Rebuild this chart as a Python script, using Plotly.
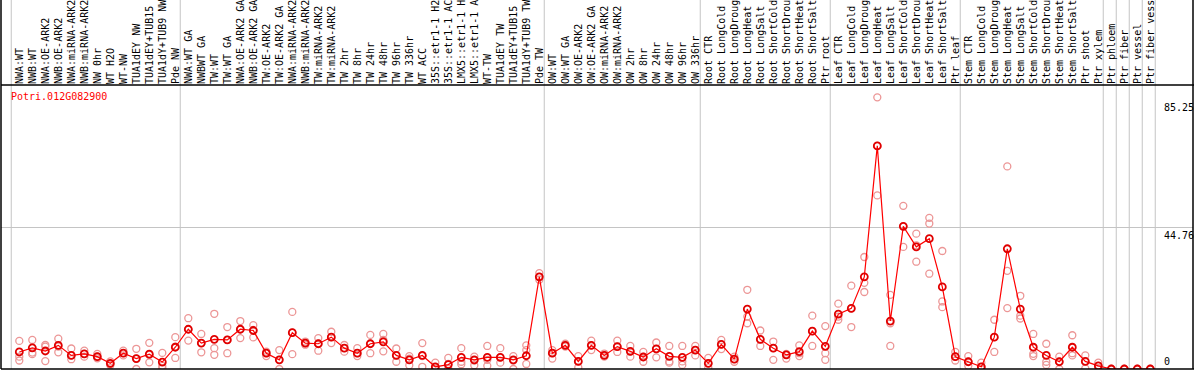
import plotly.graph_objects as go

gene = "Potri.012G082900"

labels = [
    "NWA:WT", "NWB:WT", "NWA:OE-ARK2", "NWB:OE-ARK2", "NWA:miRNA-ARK2", "NWB:miRNA-ARK2",
    "NW 0hr", "WT H2O", "WT-NW", "TUA1dEY NW", "TUA1dEY+TUB15 NW", "TUA1dY+TUB9 NW", "Pde NW",
    "NWA:WT GA", "NWBWT GA", "TW:WT", "TW:WT GA", "NWA:OE-ARK2 GA", "NWB:OE-ARK2 GA",
    "TW:OE-ARK2", "TW:OE-ARK2 GA", "NWA:miRNA-ARK2 GA", "NWB:miRNA-ARK2 GA", "TW:miRNA-ARK2",
    "TW:miRNA-ARK2 GA", "TW 2hr", "TW 8hr", "TW 24hr", "TW 48hr", "TW 96hr", "TW 336hr",
    "WT ACC", "35S::etr1-1 H2O", "35S::etr1-1 ACC", "LMX5::etr1-1 H2O", "LMX5::etr1-1 ACC",
    "WT-TW", "TUA1dEY TW", "TUA1dEY+TUB15 TW", "TUA1dY+TUB9 TW", "Pde TW",
    "OW:WT", "OW:WT GA", "OW:OE-ARK2", "OW:OE-ARK2 GA", "OW:miRNA-ARK2", "OW:miRNA-ARK2 GA",
    "OW 2hr", "OW 8hr", "OW 24hr", "OW 48hr", "OW 96hr", "OW 336hr",
    "Root CTR", "Root LongCold", "Root LongDrought", "Root LongHeat", "Root LongSalt",
    "Root ShortCold", "Root ShortDrought", "Root ShortHeat", "Root ShortSalt", "Ptr root",
    "Leaf CTR", "Leaf LongCold", "Leaf LongDrought", "Leaf LongHeat", "Leaf LongSalt",
    "Leaf ShortCold", "Leaf ShortDrought", "Leaf ShortHeat", "Leaf ShortSalt", "Ptr leaf",
    "Stem CTR", "Stem LongCold", "Stem LongDrought", "Stem LongHeat", "Stem LongSalt",
    "Stem ShortCold", "Stem ShortDrought", "Stem ShortHeat", "Stem ShortSalt", "Ptr shoot",
    "Ptr xylem", "Ptr phloem", "Ptr fiber", "Ptr vessel", "Ptr fiber vessel",
]

# first index of each group (group separators)
group_starts = [0, 13, 41, 53, 63, 73, 84, 85, 86, 87, 88]

mean_vals = [
    5.4, 6.7, 5.7, 7.5, 4.3, 4.8, 3.9, 1.8, 5.0, 3.3, 4.7, 2.2, 6.9,
    12.6, 8.2, 9.4, 9.2, 12.6, 12.2, 5.0, 2.9, 11.5, 8.2, 8.0, 10.1, 6.6, 5.0, 8.0, 8.6,
    4.3, 2.9, 4.3, 0.7, 1.4, 3.7, 2.9, 3.7, 3.7, 2.9, 4.2, 29.2,
    5.0, 7.5, 2.4, 7.5, 4.3, 7.1, 5.6, 3.8, 6.4, 4.0, 3.7, 6.0,
    1.8, 7.8, 3.1, 19.0, 9.4, 6.6, 4.5, 5.5, 12.0, 7.2,
    17.4, 19.2, 29.2, 70.7, 15.2, 45.2, 38.7, 41.3, 26.0, 3.9,
    2.3, 0.7, 10.1, 38.1, 19.0, 6.9, 4.3, 2.3, 6.9, 2.4, 1.0,
    0.0, 0.0, 0.0, 0.0,
]

rep1 = [
    8.9, 9.2, 7.6, 9.6, 6.5, 5.8, 4.8, 2.4, 5.8, 6.4, 8.3, 5.1, 10.1,
    16.1, 11.1, 17.5, 13.3, 15.2, 13.9, 5.5, 6.0, 18.1, 8.7, 9.8, 11.8, 7.6, 6.6, 10.8, 11.1,
    6.5, 4.1, 8.2, 2.0, 3.5, 6.6, 3.9, 7.3, 6.6, 4.1, 7.5, 30.4,
    6.0, 8.0, 4.1, 9.0, 4.9, 9.0, 7.3, 5.4, 8.4, 7.3, 7.3, 7.3,
    3.5, 9.2, 3.9, 25.1, 12.2, 8.7, 4.8, 7.5, 16.9, 13.6,
    20.7, 26.4, 35.5, 86.1, 23.5, 51.7, 42.9, 47.9, 37.4, 5.4,
    4.1, 2.0, 15.6, 64.2, 23.2, 11.1, 8.0, 3.9, 10.7, 4.3, 2.0,
    0.0, 0.0, 0.0, 0.0,
]

rep2 = [
    3.9, 5.2, 7.1, 5.3, 3.1, 3.9, 3.4, 1.2, 4.3, 0.0, 2.1, 1.0, 3.5,
    9.0, 5.3, 6.6, 5.0, 9.8, 10.0, 4.1, 0.0, 4.7, 7.7, 5.8, 8.2, 5.5, 4.1, 5.0, 5.6,
    2.3, 1.2, 0.7, 0.0, 0.1, 1.5, 1.2, 1.0, 2.0, 0.0, 6.0, 28.3,
    3.3, 7.1, 0.5, 6.0, 3.9, 5.4, 3.9, 2.3, 3.7, 2.0, 1.3, 4.3,
    0.5, 6.3, 2.3, 14.5, 7.3, 2.9, 3.3, 4.1, 7.3, 5.0,
    15.6, 13.3, 24.4, 55.0, 14.5, 38.7, 34.0, 46.1, 21.4, 2.7,
    1.0, 0.0, 5.4, 31.1, 16.9, 4.8, 2.3, 0.0, 4.3, 0.2, 0.3,
    0.0, 0.0, 0.0, 0.0,
]

rep3 = [
    2.7, 4.7, 2.5, 7.1, 4.3, 4.8, 3.9, 1.6, 5.0, 3.3, 4.5, 0.3, 7.1,
    12.6, 8.2, 4.5, 9.2, 12.6, 12.4, 5.0, 2.9, 11.5, 8.2, 8.0, 10.1, 6.6, 5.0, 8.0, 9.2,
    4.3, 3.3, 4.1, 0.5, 1.6, 2.3, 2.7, 2.9, 3.7, 2.7, 1.6, 29.2,
    5.0, 7.5, 2.4, 7.5, 4.3, 7.1, 5.6, 3.8, 6.4, 2.4, 2.4, 6.0,
    1.8, 7.8, 3.1, 16.6, 9.4, 6.6, 4.5, 5.0, 12.0, 2.9,
    16.6, 19.2, 27.3, 70.7, 7.3, 45.2, 39.2, 30.2, 19.6, 3.9,
    2.3, 0.7, 10.1, 19.3, 16.0, 4.1, 1.3, 2.3, 5.0, 2.4, 1.0,
    0.0, 0.0, 0.0, 0.0,
]

y_ticks = [85.25, 44.76, 0]
y_tick_text = ["85.25", "44.76", "0"]

FONT = "DejaVu Sans Mono"
GRID = "#c4c4c4"
n = len(labels)
xs = list(range(n))

X_MIN = -1.408
X_MAX = X_MIN + 1192 / 13.0
Y_MIN, Y_MAX = 0.0, 90.0

fig = go.Figure()

for rep in (rep1, rep2, rep3):
    fig.add_trace(go.Scatter(
        x=xs, y=rep, mode="markers",
        marker=dict(symbol="circle-open", size=7, color="rgb(236,150,150)",
                    line=dict(width=1.3, color="rgb(236,150,150)")),
        showlegend=False, hoverinfo="skip",
    ))

fig.add_trace(go.Scatter(
    x=xs, y=mean_vals, mode="lines+markers",
    line=dict(color="#ff0000", width=1.2),
    marker=dict(symbol="circle-open", size=7, color="#e00000",
                line=dict(width=1.8, color="#e00000")),
    showlegend=False,
))

def xfrac(v):
    return (v - X_MIN) / (X_MAX - X_MIN)

shapes = []
for s in group_starts:
    shapes.append(dict(type="line", xref="x domain", yref="paper",
                       x0=xfrac(s - 0.62), x1=xfrac(s - 0.62), y0=0, y1=1.35,
                       line=dict(color=GRID, width=1), layer="below"))
# black frame
for xv in (0, 1):
    shapes.append(dict(type="line", xref="x domain", yref="paper",
                       x0=xv, x1=xv, y0=0, y1=1.35, line=dict(color="black", width=1.5)))
for yv in (0, 1):
    shapes.append(dict(type="line", xref="paper", yref="paper",
                       x0=0, x1=1.01, y0=yv, y1=yv, line=dict(color="black", width=1.5)))

annotations = [dict(text=gene, xref="paper", yref="paper", x=0.007, y=0.985,
                    xanchor="left", yanchor="top", showarrow=False,
                    font=dict(family=FONT, size=10, color="#ff0000"))]
for t, tt in zip(y_ticks, y_tick_text):
    annotations.append(dict(text=tt, xref="x", yref="y",
                            x=87.93, y=t, xanchor="left",
                            yanchor="bottom" if t == 0 else "top",
                            showarrow=False,
                            font=dict(family=FONT, size=10, color="black")))

fig.update_layout(
    width=1194, height=370,
    margin=dict(l=1, r=1, t=85, b=1),
    paper_bgcolor="white", plot_bgcolor="white",
    font=dict(family=FONT, size=10, color="black"),
    shapes=shapes, annotations=annotations,
    xaxis=dict(range=[X_MIN, X_MAX], side="top", tickvals=xs, ticktext=labels,
               tickangle=-90, ticks="", showgrid=False, zeroline=False,
               showline=False, automargin=False,
               tickfont=dict(family=FONT, size=10, color="black")),
    yaxis=dict(range=[Y_MIN, Y_MAX], tickvals=[44.76], showticklabels=False,
               showgrid=True, gridcolor=GRID, gridwidth=1, zeroline=False,
               showline=False, ticks="", automargin=False),
)

fig.write_html("out.html", config={"displayModeBar": False},
               post_script="document.body.style.margin='0px';document.body.style.overflow='hidden';")
